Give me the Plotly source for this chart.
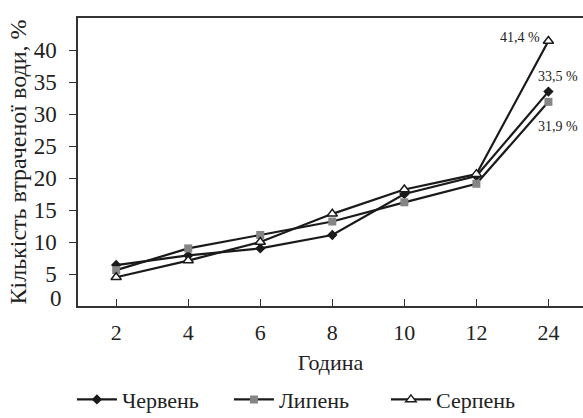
import plotly.graph_objects as go

hours = ["2", "4", "6", "8", "10", "12", "24"]
cherven = [6.4, 7.9, 9.0, 11.1, 17.5, 20.3, 33.5]
lypen = [5.6, 9.0, 11.1, 13.2, 16.2, 19.1, 31.9]
serpen = [4.5, 7.1, 10.0, 14.4, 18.2, 20.6, 41.4]
y_ticks = [5, 10, 15, 20, 25, 30, 35, 40]
end_labels = ["33,5 %", "31,9 %", "41,4 %"]

FONT = "Liberation Serif, Times New Roman, DejaVu Serif, serif"
LINE = "#1a1a1a"
last = len(hours) - 1

fig = go.Figure()
fig.add_trace(go.Scatter(x=hours, y=cherven, name="Червень", mode="lines+markers",
                         line=dict(color=LINE, width=2.2),
                         marker=dict(symbol="diamond", size=8, color=LINE)))
fig.add_trace(go.Scatter(x=hours, y=lypen, name="Липень", mode="lines+markers",
                         line=dict(color=LINE, width=2.2),
                         marker=dict(symbol="square", size=8, color="#858585", line=dict(width=0))))
fig.add_trace(go.Scatter(x=hours, y=serpen, name="Серпень", mode="lines+markers",
                         line=dict(color=LINE, width=2.2),
                         marker=dict(symbol="triangle-up", size=9, color="white",
                                     line=dict(color=LINE, width=1.5))))

lab_font = dict(family=FONT, size=14, color="#222")
fig.add_annotation(x=last, y=serpen[-1], text=end_labels[2], showarrow=False,
                   xanchor="right", xshift=-6, yshift=4, font=lab_font)
fig.add_annotation(x=last, y=cherven[-1], text=end_labels[0], showarrow=False,
                   xanchor="right", xshift=32, yshift=15, font=lab_font)
fig.add_annotation(x=last, y=lypen[-1], text=end_labels[1], showarrow=False,
                   xanchor="right", xshift=32, yshift=-25, font=lab_font)
fig.add_annotation(x=0, y=0, xref="paper", yref="y", text="0", showarrow=False,
                   xanchor="right", xshift=-14, yshift=8, font=dict(family=FONT, size=23, color="#222"))

fig.update_layout(
    width=583, height=418,
    margin=dict(l=78, r=0, t=18, b=112, autoexpand=False),
    paper_bgcolor="white", plot_bgcolor="white",
    font=dict(family=FONT, size=21, color="#222"),
    showlegend=True,
    legend=dict(orientation="h", x=-0.012, xanchor="left", y=-0.325, yanchor="middle",
                font=dict(family=FONT, size=22), itemwidth=40, tracegroupgap=0,
                entrywidth=102, bgcolor="rgba(0,0,0,0)"),
    xaxis=dict(type="category", range=[-0.53, 6.48], showgrid=False, zeroline=False,
               showline=True, linecolor="#333", linewidth=1.5, mirror=True,
               ticks="inside", ticklen=7, tickcolor="#333", tickwidth=1, automargin=False,
               ticklabelstandoff=6, tickfont=dict(family=FONT, size=22),
               title=dict(text="Година", font=dict(family=FONT, size=22), standoff=10)),
    yaxis=dict(range=[0, 45], showgrid=False, zeroline=False,
               showline=True, linecolor="#333", linewidth=1.5, automargin=False,
               tickvals=y_ticks, ticks="outside", ticklen=7, tickcolor="#333", tickwidth=1,
               ticklabelstandoff=8, tickfont=dict(family=FONT, size=23),
               title=dict(text="Кількість втраченої води, %", font=dict(family=FONT, size=24), standoff=0)),
)

fig.write_html("out.html", config={"displayModeBar": False},
               post_script="document.body.style.margin='0';")
